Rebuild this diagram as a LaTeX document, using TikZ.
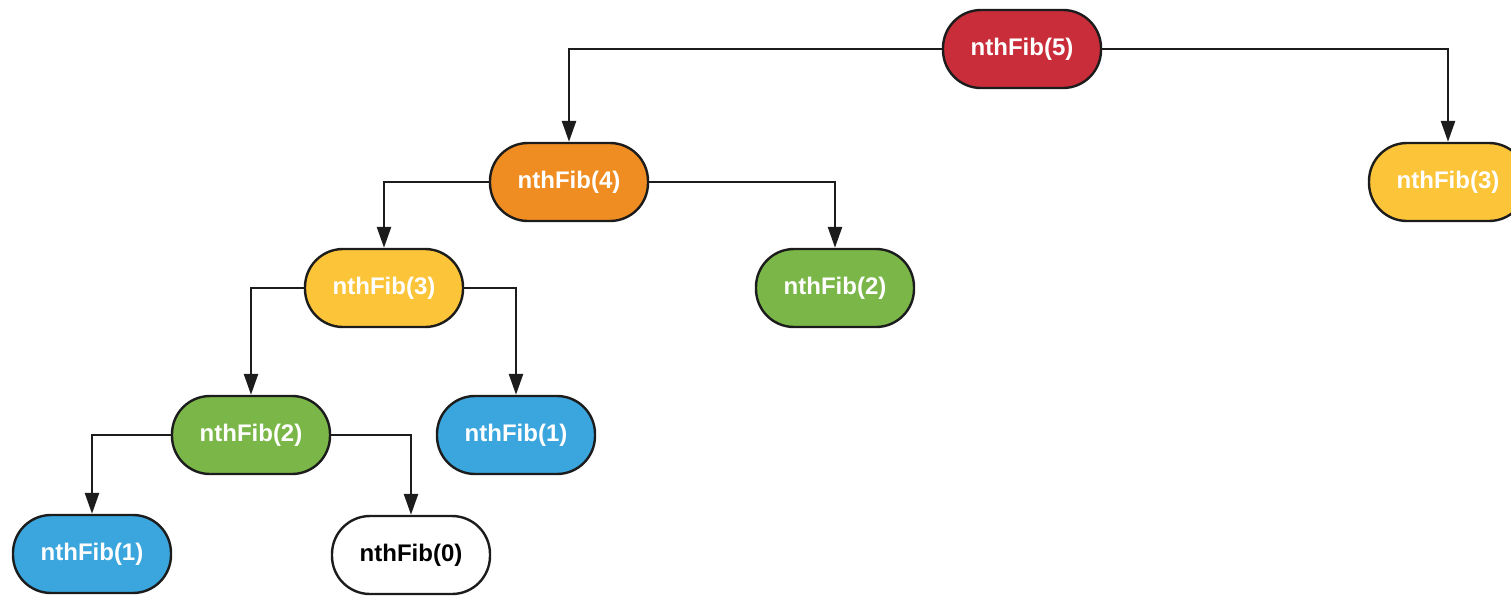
\documentclass[tikz,border=0pt]{standalone}
\usepackage{fontspec}
\setmainfont{Liberation Sans}
\usetikzlibrary{arrows.meta}

\definecolor{fibred}{HTML}{C92D39}
\definecolor{fiborange}{HTML}{EF8D22}
\definecolor{fibyellow}{HTML}{FCC438}
\definecolor{fibgreen}{HTML}{7AB648}
\definecolor{fibblue}{HTML}{3AA6DD}
\definecolor{outline}{HTML}{1C1C1C}

\tikzset{
  call/.style={rectangle, rounded corners=38pt, draw=outline, line width=2.4pt,
    minimum width=158pt, minimum height=78pt, inner sep=0pt,
    font=\fontsize{24}{28}\selectfont\bfseries, text=white},
  link/.style={draw=outline, line width=2.6pt,
    -{Triangle[width=14pt,length=21pt]}},
}

\begin{document}
\begin{tikzpicture}[x=1pt, y=-1pt]
  \useasboundingbox (0,0) rectangle (1511,595);
  \clip (0,0) rectangle (1511,595);

  % call tree of nthFib(5)
  \node[call, fill=fibred]    (f5)  at (1022, 49) {nthFib(5)};
  \node[call, fill=fiborange] (f4)  at (569, 182) {nthFib(4)};
  \node[call, fill=fibyellow] (f3r) at (1448, 182) {nthFib(3)};
  \node[call, fill=fibyellow] (f3l) at (384, 288) {nthFib(3)};
  \node[call, fill=fibgreen]  (f2m) at (835, 288) {nthFib(2)};
  \node[call, fill=fibgreen]  (f2l) at (251, 435) {nthFib(2)};
  \node[call, fill=fibblue]   (f1m) at (516, 435) {nthFib(1)};
  \node[call, fill=fibblue]   (f1l) at (92, 554)  {nthFib(1)};
  \node[call, fill=white, text=black] (f0) at (411, 555) {nthFib(0)};

  % recursive calls
  \draw[link] (f5.west)  -| (f4.north);
  \draw[link] (f5.east)  -| (f3r.north);
  \draw[link] (f4.west)  -| (f3l.north);
  \draw[link] (f4.east)  -| (f2m.north);
  \draw[link] (f3l.west) -| (f2l.north);
  \draw[link] (f3l.east) -| (f1m.north);
  \draw[link] (f2l.west) -| (f1l.north);
  \draw[link] (f2l.east) -| (f0.north);
\end{tikzpicture}
\end{document}
